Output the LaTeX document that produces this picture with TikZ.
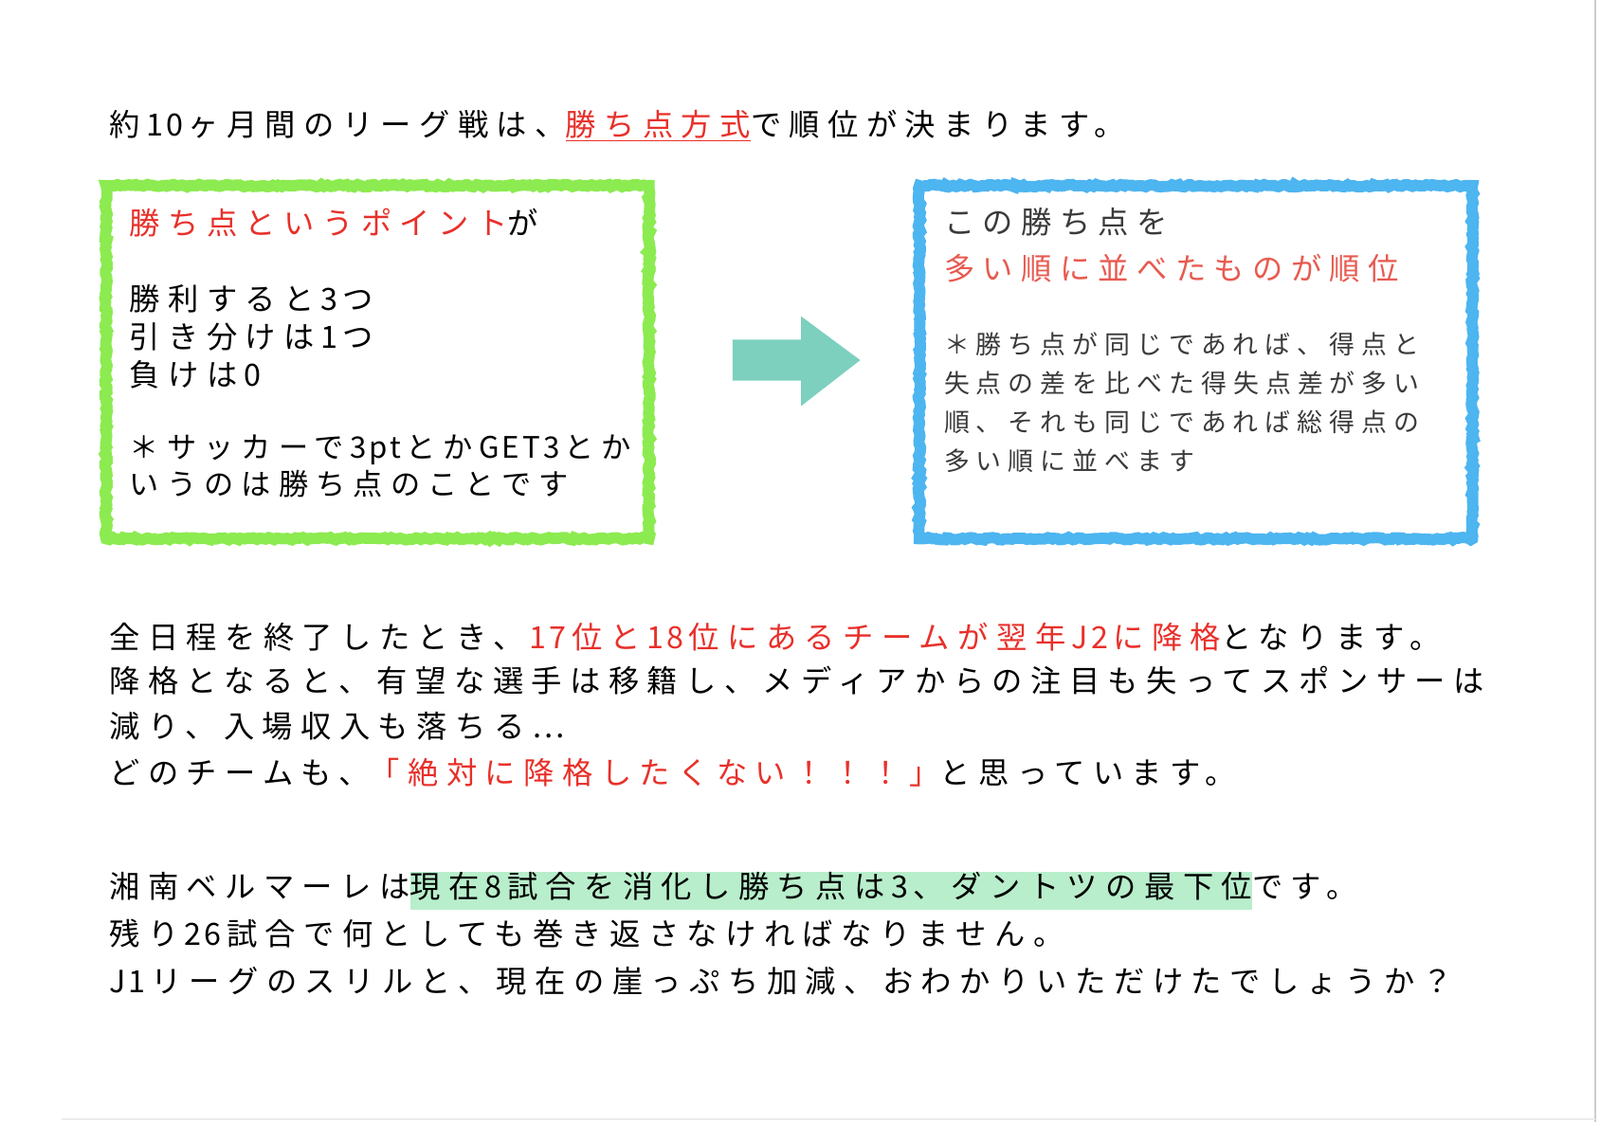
\documentclass[tikz,border=0pt]{standalone}
\usepackage{fontspec}
\setmainfont{Noto Sans CJK JP}[LetterSpace=26]
\newfontfamily\latf{Noto Sans CJK JP}[LetterSpace=10]
\newcommand{\lt}[1]{\kern0.2em{\latf #1}\kern0.16em}
\newcommand{\ltstart}[1]{{\latf #1}\kern0.16em}
\usetikzlibrary{decorations.pathmorphing}
\definecolor{jred}{HTML}{E8302A}
\definecolor{lred}{HTML}{E85A50}
\definecolor{gbox}{HTML}{8CEB50}
\definecolor{bbox}{HTML}{4DB5F0}
\definecolor{arrowc}{HTML}{7DD0BE}
\definecolor{hl}{HTML}{B8EECB}
\definecolor{gtext}{HTML}{3A3A3A}
\tikzset{
  txt/.style={anchor=west,inner sep=0pt,font=\fontsize{30bp}{37bp}\selectfont,align=left},
  smalltxt/.style={anchor=north west,inner sep=0pt,font=\fontsize{25bp}{38bp}\selectfont,align=left,text=gtext},
  roughbox/.style={line width=11bp,decorate,decoration={random steps,segment length=3bp,amplitude=1.2bp}},
}
\begin{document}
\begin{tikzpicture}[x=1bp,y=-1bp]
\useasboundingbox (0,0) rectangle (1568,1100);
\fill[white] (0,0) rectangle (1568,1100);
\draw[gray!40,line width=2bp] (1563,0) -- (1563,1100);
\draw[gray!15,line width=1bp] (60,1097) -- (1563,1097);

\node[txt] (l1) at (107,123) {約\lt{10}ヶ月間のリーグ戦は、\textcolor{jred}{\underline{勝ち点方式}}で順位が決まります。};

\draw[roughbox,draw=gbox] (104,182) rectangle (636,528);
\node[txt] (g1) at (127,218) {\textcolor{jred}{勝ち点というポイント}が};
\node[txt] (g2) at (127,330) {勝利すると\lt{3}つ\\引き分けは\lt{1}つ\\負けは\lt{0}};
\node[txt,font=\fontsize{29bp}{36bp}\selectfont] (g3) at (127,457) {＊サッカーで\lt{3pt}とか\lt{GET3}とか\\いうのは勝ち点のことです};

\draw[roughbox,draw=bbox] (901,182) rectangle (1443,528);
\node[txt,text=gtext] (b1) at (925,218) {この勝ち点を};
\node[txt,text=lred] (b2) at (925,263) {多い順に並べたものが順位};
\node[smalltxt] (b3) at (925,326) {＊勝ち点が同じであれば、得点と\\失点の差を比べた得失点差が多い\\順、それも同じであれば総得点の\\多い順に並べます};

\fill[arrowc] (718,333) -- (785,333) -- (785,310) -- (843,353) -- (785,398) -- (785,373) -- (718,373) -- cycle;

\node[txt] (p1) at (107,624) {全日程を終了したとき、\textcolor{jred}{\lt{17}位と\lt{18}位にあるチームが翌年\lt{J2}に降格}となります。};
\node[txt] (p2) at (107,667) {降格となると、有望な選手は移籍し、メディアからの注目も失ってスポンサーは};
\node[txt] (p3) at (107,712) {減り、入場収入も落ちる…};
\node[txt] (p4) at (107,757) {どのチームも、\textcolor{jred}{「絶対に降格したくない！！！」}と思っています。};

\node[txt] (q1) at (107,873) {湘南ベルマーレは{\fboxsep=0pt\colorbox{hl}{\strut 現在\lt{8}試合を消化し勝ち点は\lt{3}、ダントツの最下位}}です。};
\node[txt] (q2) at (107,915) {残り\lt{26}試合で何としても巻き返さなければなりません。};
\node[txt] (q3) at (107,962) {\ltstart{J1}リーグのスリルと、現在の崖っぷち加減、おわかりいただけたでしょうか？};
\end{tikzpicture}
\end{document}
